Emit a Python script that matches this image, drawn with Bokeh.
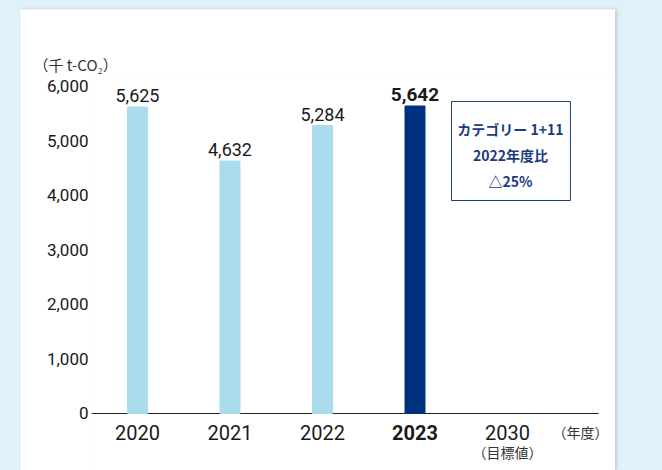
from bokeh.plotting import figure
from bokeh.models import Range1d, FixedTicker, BoxAnnotation, ColumnDataSource, Spacer, Title
from bokeh.layouts import row, column
from bokeh.core.properties import value
from bokeh.embed import file_html
from bokeh.resources import INLINE

# ---- data ----
years = ["2020", "2021", "2022", "2023", "2030"]
bar_years = ["2020", "2021", "2022", "2023"]
emissions = [5625, 4632, 5284, 5642]
value_labels = ["5,625", "4,632", "5,284", "5,642"]
highlight_year = "2023"
target_year = "2030"
y_ticks = [0, 1000, 2000, 3000, 4000, 5000, 6000]
y_tick_labels = ["0", "1,000", "2,000", "3,000", "4,000", "5,000", "6,000"]
unit_label = "（千 t-CO₂）"
x_unit_label = "（年度）"
target_note = "（目標値）"
box_lines = ["カテゴリー 1+11", "2022年度比", "△25%"]

# ---- styles ----
LIGHT = "#aadcee"
DARK = "#00317e"
NAVY_TEXT = "#1b3c7e"
BG = "#e1f1f9"
TXT = "#1a1a1a"
NUM_FONT = "Roboto"
JP_FONT = "Noto Sans CJK JP"

xpos = [years.index(y) for y in bar_years]
src = ColumnDataSource(dict(
    x=xpos,
    top=emissions,
    label=value_labels,
    color=[DARK if y == highlight_year else LIGHT for y in bar_years],
    style=["bold" if y == highlight_year else "normal" for y in bar_years],
    size=["19px" if y == highlight_year else "18px" for y in bar_years],
))
xsrc = ColumnDataSource(dict(
    x=list(range(len(years))),
    y=[0] * len(years),
    text=years,
    style=["bold" if y == highlight_year else "normal" for y in years],
))

p = figure(width=595, height=461, output_backend="svg", toolbar_location=None,
           x_range=Range1d(-0.497, 5.135), y_range=Range1d(-1046, 6220),
           x_axis_location=None,
           min_border_left=71, min_border_right=3, min_border_bottom=0, min_border_top=65)
p.outline_line_color = None
p.grid.visible = False
p.background_fill_color = "white"
p.border_fill_color = "white"
p.styles = {"box-shadow": "2px 0px 3px rgba(0,0,0,0.15)"}

# unit label as a title above the plot
p.add_layout(Title(text=unit_label, align="left", offset=-58, standoff=0,
                   text_font=JP_FONT, text_font_size="15px", text_font_style="normal",
                   text_color="#333333"), "above")

# baseline
p.segment(x0=[p.x_range.start], x1=[4.984], y0=[0], y1=[0], line_color="#222222", line_width=1)

p.vbar(x="x", top="top", width=0.216, color="color", source=src)
p.text(x="x", y="top", text="label", source=src, text_align="center", text_baseline="bottom",
       y_offset=-5, text_font=value(NUM_FONT), text_font_size="size", text_font_style="style",
       text_color=TXT)

# x category labels
p.text(x="x", y="y", text="text", source=xsrc, text_align="center", text_baseline="middle",
       y_offset=19, text_font=value(NUM_FONT), text_font_size="20px", text_font_style="style",
       text_color=TXT)
p.text(x=[years.index(target_year)], y=[0], text=[target_note], text_align="center",
       text_baseline="middle", y_offset=39, text_font=value(JP_FONT), text_font_size="14px",
       text_color="#333333")
p.text(x=[4.789], y=[0], text=[x_unit_label], text_align="center", text_baseline="middle",
       y_offset=19, text_font=value(JP_FONT), text_font_size="14px", text_color="#333333")

# y axis
ya = p.yaxis[0]
ya.ticker = FixedTicker(ticks=y_ticks)
ya.major_label_overrides = {t: l for t, l in zip(y_ticks, y_tick_labels)}
ya.axis_line_color = None
ya.major_tick_line_color = None
ya.minor_tick_line_color = None
ya.major_label_text_font = NUM_FONT
ya.major_label_text_font_size = "17px"
ya.major_label_text_color = TXT
ya.major_label_standoff = -3

# annotation box
p.add_layout(BoxAnnotation(left=3.395, right=4.68, top=5725, bottom=3908,
                           fill_color="white", fill_alpha=1.0, line_color=NAVY_TEXT,
                           line_alpha=1.0, line_width=1))
p.text(x=[4.032] * len(box_lines), y=[5229, 4734, 4257], text=box_lines, text_align="center",
       text_baseline="middle", text_font=value(JP_FONT), text_font_size="14px",
       text_font_style="bold", text_color=NAVY_TEXT, level="overlay")

layout = column(Spacer(height=9),
                row(Spacer(width=20), p, Spacer(width=47)),
                styles={"background-color": BG})
html = file_html(layout, INLINE)
open("out.html", "w").write(html)
